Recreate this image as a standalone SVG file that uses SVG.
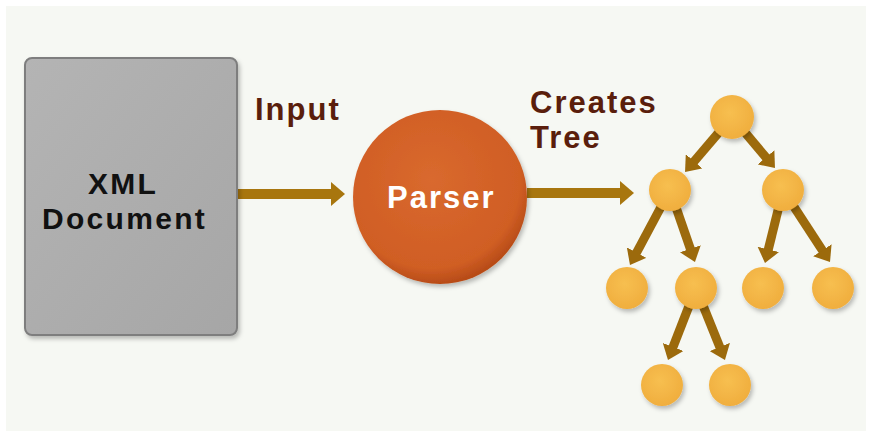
<svg xmlns="http://www.w3.org/2000/svg" width="872" height="437" viewBox="0 0 872 437">
<style>
  .lbl{font-family:"Liberation Sans",Arial,sans-serif;font-weight:bold;font-size:31px;letter-spacing:2px}
  .doc{font-size:30px;letter-spacing:2.3px}
  .brown{fill:#5a1e0c}
  .conn{stroke:#a8760e;fill:none;stroke-linecap:butt}
  .main{stroke-width:10;marker-end:url(#headMain)}
  .tree{stroke-width:9;stroke:#9c6a0c;marker-end:url(#headTree)}
  .leaf{fill:url(#gNode);filter:url(#sh)}
</style>
<defs>
  <marker id="headMain" markerUnits="userSpaceOnUse" markerWidth="14" markerHeight="24" viewBox="0 0 14 24" refX="1" refY="12" orient="auto">
    <path d="M0,0 L14,12 L0,24 z" fill="#a8760e"/>
  </marker>
  <marker id="headTree" markerUnits="userSpaceOnUse" markerWidth="14" markerHeight="22" viewBox="0 0 14 22" refX="1" refY="11" orient="auto">
    <path d="M0,0 L14,11 L0,22 z" fill="#9c6a0c"/>
  </marker>
  <linearGradient id="gDoc" x1="0" y1="0" x2="1" y2="1">
    <stop offset="0" stop-color="#b4b4b4"/>
    <stop offset="1" stop-color="#a6a6a6"/>
  </linearGradient>
  <radialGradient id="gPar" cx="0.45" cy="0.4" r="0.6">
    <stop offset="0" stop-color="#d9692e"/>
    <stop offset="0.85" stop-color="#d05e24"/>
    <stop offset="1" stop-color="#b84c18"/>
  </radialGradient>
  <radialGradient id="gNode" cx="0.45" cy="0.4" r="0.6">
    <stop offset="0" stop-color="#f7bf50"/>
    <stop offset="1" stop-color="#f0ae3e"/>
  </radialGradient>
  <filter id="sh" x="-30%" y="-30%" width="160%" height="160%">
    <feDropShadow dx="2" dy="3" stdDeviation="2" flood-color="#000" flood-opacity="0.25"/>
  </filter>
</defs>
<rect x="0" y="0" width="872" height="437" fill="#ffffff"/>
<rect x="6" y="6" width="860" height="425" fill="#f6f8f3"/>

<g id="connectors">
  <line class="conn main" x1="237" y1="194" x2="332" y2="194"/>
  <line class="conn main" x1="527" y1="193" x2="621" y2="193"/>
  <line class="conn tree" x1="732" y1="117" x2="693.5" y2="162.1"/>
  <line class="conn tree" x1="732" y1="117" x2="766.6" y2="158.1"/>
  <line class="conn tree" x1="670" y1="190" x2="636.1" y2="253.5"/>
  <line class="conn tree" x1="670" y1="190" x2="690.7" y2="249.7"/>
  <line class="conn tree" x1="783" y1="190" x2="768.1" y2="250.4"/>
  <line class="conn tree" x1="783" y1="190" x2="822.9" y2="251.1"/>
  <line class="conn tree" x1="696" y1="288" x2="672.7" y2="347.9"/>
  <line class="conn tree" x1="696" y1="288" x2="720.1" y2="347.9"/>
</g>

<g id="xml-document">
  <rect x="25" y="58" width="212" height="277" rx="7" fill="url(#gDoc)" stroke="#7e7e7e" stroke-width="2" filter="url(#sh)"/>
  <text class="lbl doc" x="88" y="194" fill="#111">XML</text>
  <text class="lbl doc" x="42" y="229" fill="#111">Document</text>
</g>

<g id="input-label">
  <text class="lbl brown" x="255" y="120">Input</text>
</g>

<g id="parser">
  <circle cx="440" cy="197" r="87" fill="url(#gPar)" filter="url(#sh)"/>
  <text class="lbl" x="387" y="208" fill="#ffffff">Parser</text>
</g>

<g id="creates-tree-label">
  <text class="lbl brown" x="530" y="113">Creates</text>
  <text class="lbl brown" x="530" y="148">Tree</text>
</g>

<g id="tree-root"><circle class="leaf" cx="732" cy="117" r="22"/></g>
<g id="tree-left"><circle class="leaf" cx="670" cy="190" r="21"/></g>
<g id="tree-right"><circle class="leaf" cx="783" cy="190" r="21"/></g>
<g id="tree-ll"><circle class="leaf" cx="627" cy="288" r="21"/></g>
<g id="tree-lr"><circle class="leaf" cx="696" cy="288" r="21"/></g>
<g id="tree-rl"><circle class="leaf" cx="763" cy="288" r="21"/></g>
<g id="tree-rr"><circle class="leaf" cx="833" cy="288" r="21"/></g>
<g id="tree-lrl"><circle class="leaf" cx="662" cy="385" r="21"/></g>
<g id="tree-lrr"><circle class="leaf" cx="730" cy="385" r="21"/></g>
</svg>
